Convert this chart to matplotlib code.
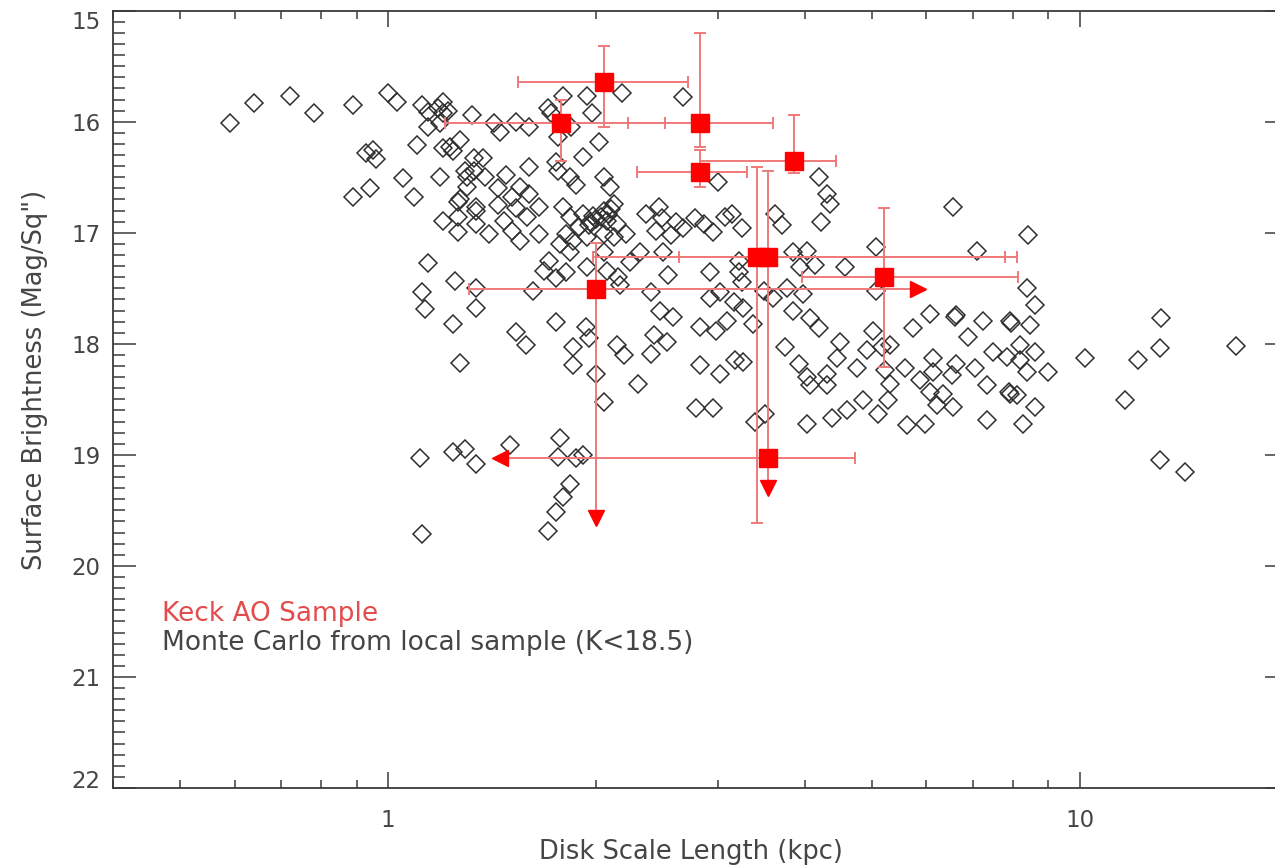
import numpy as np
import matplotlib
matplotlib.use("Agg")
import matplotlib.pyplot as plt
from matplotlib.ticker import FixedLocator, LogLocator, MultipleLocator, NullFormatter, FixedFormatter

# ---------------- Monte Carlo sample (disk scale length kpc, surface brightness mag/sq") -------------
mc_x_a = [0.59, 0.64, 0.72, 0.78, 0.89, 1.00, 1.03, 1.12, 1.14, 1.20,
          1.20, 1.14, 1.19, 1.32, 1.10, 0.93, 0.96, 0.95, 1.20, 1.23,
          1.27, 1.33, 1.05, 1.19, 1.29, 1.30, 0.89, 0.94, 1.09, 1.26,
          1.30, 1.20, 1.26, 1.26, 1.34, 1.34, 1.14, 1.25, 1.12, 1.13,
          1.24, 1.34, 1.27, 1.11, 1.24, 1.29, 1.34, 1.12]
mc_y_a = [16.01, 15.83, 15.77, 15.92, 15.85, 15.74, 15.82, 15.85, 15.91, 15.82,
          15.92, 16.05, 16.01, 15.94, 16.21, 16.28, 16.34, 16.25, 16.24, 16.23,
          16.16, 16.33, 16.51, 16.50, 16.44, 16.50, 16.68, 16.60, 16.68, 16.72,
          16.59, 16.89, 16.86, 16.99, 16.80, 16.92, 17.27, 17.43, 17.53, 17.69,
          17.82, 17.68, 18.17, 19.03, 18.97, 18.95, 19.08, 19.71]

mc_x_b = [1.79, 1.94, 2.18, 2.67, 1.97, 1.70, 1.42, 1.45, 1.53, 1.60,
          1.72, 1.84, 1.76, 2.02, 1.91, 1.75, 1.76, 1.83, 1.87, 2.05,
          2.09, 1.37, 1.33, 1.38, 1.48, 1.60, 1.44, 1.55, 1.51, 1.60,
          1.34, 1.44, 1.53, 1.65, 1.47, 1.59, 1.40, 1.51, 1.55, 1.65,
          1.79, 1.83, 1.91, 1.96, 2.05, 2.12, 2.07, 2.14, 1.89, 1.81,
          1.77, 1.85, 1.94, 2.05, 2.12, 2.21, 1.83, 1.71, 1.68, 1.75,
          1.81, 1.94, 2.05, 2.07, 2.15, 2.16, 2.24, 2.31, 2.36, 2.46,
          2.49, 2.61, 2.44, 2.56, 2.67, 2.78, 2.86, 2.50, 2.54, 2.40,
          1.34, 1.62, 1.75, 1.53, 1.58, 1.93, 1.95, 1.85, 1.85, 2.14,
          2.19, 2.00, 2.42, 2.53, 2.40, 2.47, 2.58, 2.82, 2.82, 2.30,
          2.05, 2.79, 1.50, 1.77, 1.76, 1.87, 1.91, 1.83, 1.79, 1.75,
          1.70, 1.98, 2.00, 2.03, 1.95, 2.08, 2.10, 1.22, 1.18, 1.24, 1.27]
mc_y_b = [15.77, 15.77, 15.74, 15.78, 15.92, 15.88, 16.01, 16.09, 16.00, 16.05,
          15.92, 16.05, 16.14, 16.18, 16.32, 16.36, 16.44, 16.50, 16.57, 16.50,
          16.59, 16.33, 16.44, 16.50, 16.48, 16.41, 16.60, 16.59, 16.68, 16.65,
          16.77, 16.75, 16.78, 16.77, 16.89, 16.86, 17.01, 16.98, 17.07, 17.01,
          16.77, 16.86, 16.83, 16.90, 16.80, 16.74, 16.89, 16.92, 16.95, 17.01,
          17.10, 17.07, 17.04, 17.01, 17.04, 17.01, 17.17, 17.25, 17.34, 17.41,
          17.35, 17.31, 17.17, 17.34, 17.40, 17.47, 17.26, 17.17, 16.83, 16.77,
          16.87, 16.90, 16.98, 17.02, 16.96, 16.87, 16.92, 17.17, 17.38, 17.53,
          17.50, 17.52, 17.80, 17.89, 18.01, 17.85, 17.95, 18.03, 18.19, 18.01,
          18.10, 18.27, 17.92, 17.98, 18.09, 17.70, 17.76, 17.85, 18.19, 18.36,
          18.52, 18.58, 18.91, 18.85, 19.02, 19.03, 19.00, 19.26, 19.38, 19.51,
          19.69, 16.85, 16.88, 16.86, 16.93, 16.83, 16.79, 15.90, 15.88, 16.26, 16.70]

mc_x_c = [3.00, 4.19, 4.31, 4.35, 4.23, 3.07, 3.14, 2.95, 3.25, 3.63,
          3.71, 3.21, 2.92, 3.21, 3.25, 3.02, 2.92, 3.16, 3.26, 3.37,
          3.85, 4.03, 3.94, 4.14, 4.58, 5.08, 3.49, 3.77, 3.60, 3.98,
          3.85, 4.07, 4.19, 5.08, 2.98, 3.09, 3.02, 3.17, 3.26, 3.75,
          3.92, 4.03, 4.07, 4.31, 4.31, 4.50, 4.45, 4.76, 4.92, 5.03,
          5.17, 5.32, 5.23, 5.32, 4.86, 5.11, 5.28, 4.60, 4.38, 4.03,
          2.95, 3.39, 3.51, 5.62, 5.74, 6.07, 5.59, 5.87]
mc_y_c = [16.54, 16.50, 16.65, 16.74, 16.90, 16.86, 16.83, 16.99, 16.96, 16.83,
          16.93, 17.25, 17.35, 17.35, 17.44, 17.53, 17.59, 17.62, 17.68, 17.82,
          17.17, 17.16, 17.31, 17.29, 17.31, 17.13, 17.52, 17.50, 17.59, 17.55,
          17.70, 17.77, 17.86, 17.52, 17.88, 17.79, 18.27, 18.15, 18.16, 18.03,
          18.18, 18.30, 18.37, 18.27, 18.37, 17.98, 18.13, 18.22, 18.06, 17.88,
          18.03, 18.01, 18.24, 18.36, 18.51, 18.63, 18.51, 18.60, 18.67, 18.72,
          18.58, 18.70, 18.63, 18.73, 17.86, 17.73, 18.22, 18.33]

mc_x_d = [6.56, 8.42, 7.09, 8.38, 8.61, 6.60, 7.25, 7.92, 8.47, 6.90,
          6.14, 6.63, 7.05, 7.49, 7.84, 8.19, 8.19, 8.61, 8.38, 9.00,
          6.14, 6.53, 7.33, 6.07, 6.35, 6.21, 6.56, 7.92, 8.10, 8.61,
          5.97, 7.33, 8.28, 10.17, 12.14, 13.05, 13.12, 16.84, 11.61, 13.05,
          14.18, 7.96, 7.90, 6.62]
mc_y_d = [16.77, 17.02, 17.16, 17.50, 17.65, 17.76, 17.79, 17.79, 17.83, 17.94,
          18.13, 18.18, 18.22, 18.07, 18.12, 18.01, 18.15, 18.07, 18.25, 18.25,
          18.25, 18.28, 18.37, 18.43, 18.45, 18.55, 18.57, 18.45, 18.46, 18.57,
          18.72, 18.69, 18.72, 18.13, 18.15, 18.04, 17.77, 18.02, 18.51, 19.05,
          19.15, 17.81, 18.43, 17.74]

# ---------------- Keck AO sample ----------------
keck_x   = [2.05, 1.78, 2.82, 2.82, 3.86, 3.41, 3.54, 3.54, 2.00, 5.21]
keck_y   = [15.64, 16.01, 16.01, 16.45, 16.35, 17.22, 17.22, 19.03, 17.51, 17.40]
keck_xlo = [1.54, 1.21, 2.22, 2.29, 2.82, 1.98, 2.63, 1.45, 1.31, 3.97]
keck_xhi = [2.71, 2.51, 3.60, 3.30, 4.44, 7.79, 8.11, 4.73, 5.83, 8.14]
keck_ylo = [15.32, 15.80, 15.20, 16.25, 15.94, 16.41, 16.44, 19.03, 17.09, 16.78]
keck_yhi = [16.05, 16.35, 16.23, 16.59, 16.46, 19.61, 19.30, 19.03, 19.57, 18.21]
keck_left_limit  = [False, False, False, False, False, False, False, True, False, False]
keck_right_limit = [False, False, False, False, False, False, False, False, True, False]
keck_down_limit  = [False, False, False, False, False, False, True, False, True, False]

x_ticks = [1, 10]
x_ticklabels = ["1", "10"]
y_ticks = [15, 16, 17, 18, 19, 20, 21, 22]

# ---------------- figure ----------------
W, H = 1275, 868
fig = plt.figure(figsize=(W / 100, H / 100), dpi=100)
fig.patch.set_facecolor("white")
ax = fig.add_axes([113 / W, 1 - 788 / H, (1288 - 113) / W, (788 - 10.7) / H])

txt = "#454545"
ecol = "#f07a7a"
red = "#ff0000"

mc_x = np.array(mc_x_a + mc_x_b + mc_x_c + mc_x_d)
mc_y = np.array(mc_y_a + mc_y_b + mc_y_c + mc_y_d)
ax.plot(mc_x, mc_y, ls="none", marker="D", ms=9.5, mfc="none",
        mec="#2e2e2e", mew=1.1, zorder=2)

for i in range(len(keck_x)):
    x, y = keck_x[i], keck_y[i]
    xl, xh, yl, yh = keck_xlo[i], keck_xhi[i], keck_ylo[i], keck_yhi[i]
    ax.plot([xl, xh], [y, y], color=ecol, lw=1.4, zorder=3)
    if keck_left_limit[i]:
        ax.plot([xl], [y], marker="<", ms=11, color=red, mec=red, zorder=4, ls="none")
    else:
        ax.plot([xl], [y], marker="|", ms=9, mew=1.4, color=ecol, zorder=3, ls="none")
    if keck_right_limit[i]:
        ax.plot([xh], [y], marker=">", ms=11, color=red, mec=red, zorder=4, ls="none")
    else:
        ax.plot([xh], [y], marker="|", ms=9, mew=1.4, color=ecol, zorder=3, ls="none")
    if yl != yh:
        ax.plot([x, x], [yl, yh], color=ecol, lw=1.4, zorder=3)
        ax.plot([x], [yl], marker="_", ms=9, mew=1.4, color=ecol, zorder=3, ls="none")
        if keck_down_limit[i]:
            ax.plot([x], [yh], marker="v", ms=11, color=red, mec=red, zorder=4, ls="none")
        else:
            ax.plot([x], [yh], marker="_", ms=9, mew=1.4, color=ecol, zorder=3, ls="none")

ax.plot(keck_x, keck_y, ls="none", marker="s", ms=13, color=red, mec=red, zorder=5)

ax.set_xscale("log")
ax.set_xlim(0.4, 20)
ax.set_ylim(22, 15)

ax.xaxis.set_major_locator(FixedLocator(x_ticks))
ax.xaxis.set_major_formatter(FixedFormatter(x_ticklabels))
ax.xaxis.set_minor_locator(LogLocator(base=10, subs=np.arange(2, 10)))
ax.xaxis.set_minor_formatter(NullFormatter())
ax.yaxis.set_major_locator(FixedLocator(y_ticks))
ax.yaxis.set_minor_locator(MultipleLocator(0.1))

ax.tick_params(which="both", direction="in", top=True, right=True,
               color="#3a3a3a", labelcolor=txt, labelsize=16.5)
ax.tick_params(axis="y", which="major", length=16.5, width=1.1, pad=9)
ax.tick_params(axis="y", which="minor", length=8.5, width=1.1)
ax.tick_params(axis="x", which="major", length=11.5, width=1.1, pad=15)
ax.tick_params(axis="x", which="minor", length=5.5, width=1.1)

for s in ax.spines.values():
    s.set_color("#3a3a3a")
    s.set_linewidth(1.3)

ax.set_xlabel("Disk Scale Length (kpc)", fontsize=18.5, color=txt)
ax.xaxis.set_label_coords(0.492, -0.066)
ax.set_ylabel('Surface Brightness (Mag/Sq")', fontsize=18.5, color=txt)
ax.yaxis.set_label_coords(-0.055, 0.525)

ax.text(0.0417, 0.2148, "Keck AO Sample", transform=ax.transAxes,
        fontsize=19, color="#e24c4c", va="baseline", ha="left")
ax.text(0.0417, 0.1775, "Monte Carlo from local sample (K<18.5)", transform=ax.transAxes,
        fontsize=19, color=txt, va="baseline", ha="left")

# nudge the end labels inward like the original
yt = ax.yaxis.get_major_ticks()
yt[0].label1.set_verticalalignment("top")
yt[-1].label1.set_verticalalignment("baseline")

fig.savefig("out.png", dpi=100, facecolor="white")
